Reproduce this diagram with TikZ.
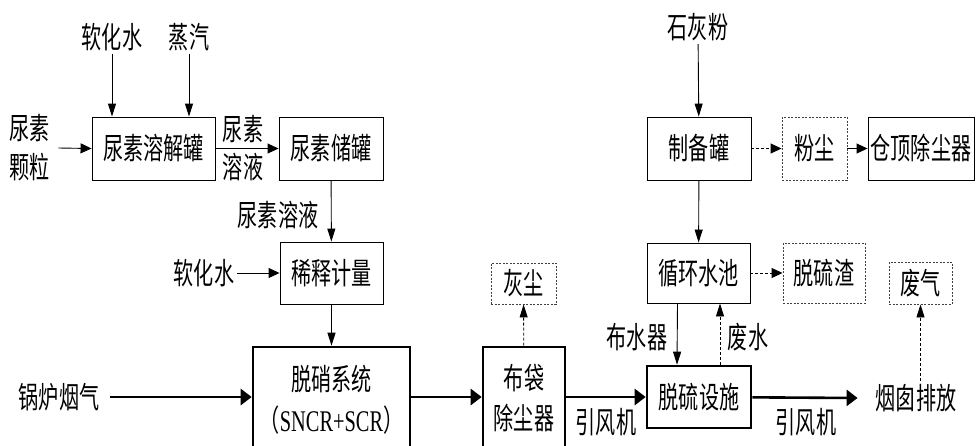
\documentclass[tikz,border=0pt]{standalone}
\usepackage{fontspec}
\setmainfont{Liberation Serif}[FakeStretch=0.68]
\newfontfamily\cjk[FakeStretch=0.67]{Noto Sans CJK SC}
\usetikzlibrary{arrows.meta}

\newcommand{\zhfont}{\cjk\fontsize{30}{32}\selectfont}

\tikzset{
    box/.style = {draw, line width=0.9pt, inner sep=0pt, align=center, font=\zhfont},
    tbox/.style = {box, line width=2.6pt},
    dbox/.style = {box, draw=black!75, dash pattern=on 2pt off 1.5pt},
    lab/.style = {align=center, inner sep=3pt, font=\zhfont},
    varr/.style = {-{Triangle[length=13pt,width=8pt]}, line width=0.9pt},
    harr/.style = {-{Triangle[length=11pt,width=10pt]}, line width=0.9pt},
    dvarr/.style = {varr, dash pattern=on 3pt off 2pt},
    dharr/.style = {harr, dash pattern=on 3pt off 2pt},
    tarr/.style = {-{Triangle[length=11pt,width=16pt]}, line width=2.6pt}
}

\begin{document}
\begin{tikzpicture}[x=1pt, y=-1pt]
        \clip (0,0) rectangle (977,445);

        % boxes
        \node[box, minimum width=123, minimum height=63] (rongjie) at (153.5,148.5) {尿素溶解罐};
        \node[box, minimum width=104, minimum height=63] (chuguan) at (331,148.5) {尿素储罐};
        \node[box, minimum width=103, minimum height=62] (xishi) at (331.5,273) {稀释计量};
        \node[tbox, minimum width=157, minimum height=106] (tuoxiao) at (331.5,400) {脱硝系统\\[9pt]（{\rmfamily SNCR+SCR}）};
        \node[tbox, minimum width=82, minimum height=102] (budai) at (524,398) {布袋\\[8pt]除尘器};
        \node[dbox, minimum width=65, minimum height=41] (huichen) at (523.5,283.5) {灰尘};
        \node[box, minimum width=104, minimum height=63] (zhibei) at (699,148.5) {制备罐};
        \node[dbox, minimum width=65, minimum height=63] (fenchen) at (814.5,148.5) {粉尘};
        \node[box, minimum width=106, minimum height=63] (cangding) at (921,148.5) {仓顶除尘器};
        \node[box, minimum width=103, minimum height=60] (xunhuan) at (698.5,273) {循环水池};
        \node[dbox, minimum width=82, minimum height=60] (tuoliuzha) at (824,273) {脱硫渣};
        \node[dbox, minimum width=63, minimum height=42] (feiqi) at (920.5,283) {废气};
        \node[tbox, minimum width=104, minimum height=62] (tuoliu) at (699,397) {脱硫设施};

        % labels
        \node[lab] (ruanhua) at (112,37) {软化水};
        \node[lab] (zhengqi) at (189,37) {蒸汽};
        \node[lab] (keli) at (30,148) {尿素\\[7pt]颗粒};
        \node[lab] (rsup) at (243,129) {尿素};
        \node[lab] (rsdown) at (243,167) {溶液};
        \node[lab] (rsrongye) at (278,215) {尿素溶液};
        \node[lab] (ruanhuab) at (204,273) {软化水};
        \node[lab] (guolu) at (59,397) {锅炉烟气};
        \node[lab] (shihui) at (698,27) {石灰粉};
        \node[lab] (bushui) at (637,337) {布水器};
        \node[lab] (feishui) at (748,337) {废水};
        \node[lab] (yinfeng) at (606,422) {引风机};
        \node[lab] (yinfengb) at (806,422) {引风机};
        \node[lab] (yancong) at (916,398) {烟囱排放};

        % urea line
        \draw[varr] (ruanhua) -- (ruanhua |- rongjie.north);
        \draw[varr] (zhengqi) -- (zhengqi |- rongjie.north);
        \draw[harr] ([xshift=5]keli.east) -- (rongjie.west);
        \draw[harr] (rongjie) -- (chuguan);
        \draw[varr] (chuguan) -- (xishi);
        \draw[harr] (ruanhuab.east |- xishi) -- (xishi);
        \draw[varr] (xishi) -- (tuoxiao);

        % flue gas
        \draw[tarr] ([xshift=8]guolu.east) -- (guolu -| tuoxiao.west);
        \draw[tarr] (guolu -| tuoxiao.east) -- (guolu -| budai.west);
        \draw[dvarr] (budai) -- (huichen);
        \draw[tarr] (budai.east |- tuoliu) -- (tuoliu);
        \draw[tarr] (tuoliu) -- ([xshift=-15]yancong.west);
        \draw[dvarr] (yancong.north -| feiqi) -- (feiqi);

        % lime line
        \draw[varr] (shihui) -- (zhibei);
        \draw[dharr] (zhibei) -- (fenchen);
        \draw[harr] (fenchen) -- (cangding);
        \draw[varr] (zhibei) -- (xunhuan);
        \draw[dharr] (xunhuan) -- (tuoliuzha);
        \draw[varr] ([xshift=-21]xunhuan.south) -- ([xshift=-22]tuoliu.north);
        \draw[dvarr] ([xshift=21]tuoliu.north) -- ([xshift=21.5]xunhuan.south);
\end{tikzpicture}
\end{document}
